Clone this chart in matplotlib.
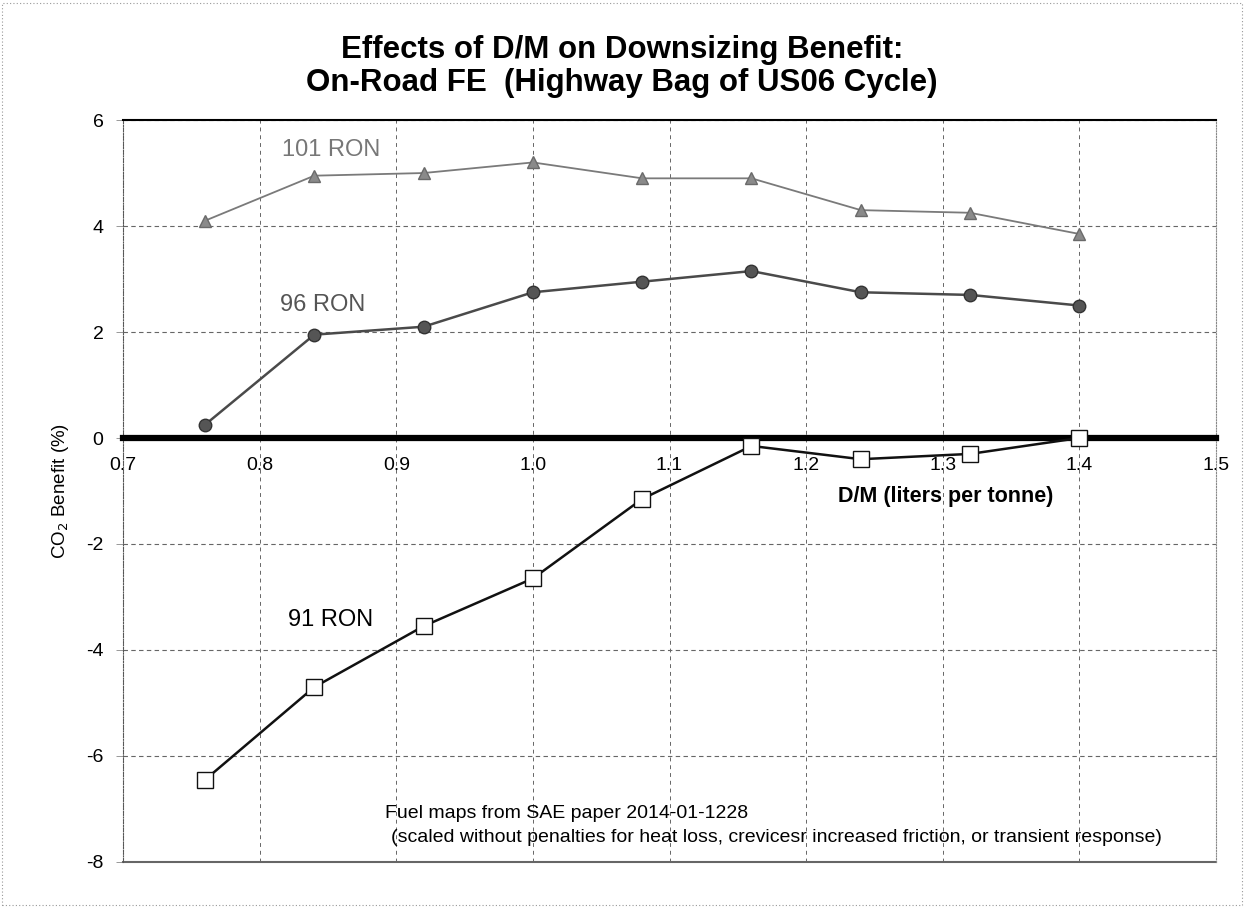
import matplotlib.pyplot as plt
from matplotlib.patches import Rectangle

plt.rcParams['font.family'] = ['Liberation Sans', 'DejaVu Sans']
plt.rcParams['axes.unicode_minus'] = False

# D/M values (liters per tonne)
dm = [0.76, 0.84, 0.92, 1.00, 1.08, 1.16, 1.24, 1.32, 1.40]

# CO2 benefit (%) per fuel
ron101 = [4.1, 4.95, 5.0, 5.2, 4.9, 4.9, 4.3, 4.25, 3.85]
ron96 = [0.25, 1.95, 2.1, 2.75, 2.95, 3.15, 2.75, 2.7, 2.5]
ron91 = [-6.45, -4.7, -3.55, -2.65, -1.15, -0.15, -0.4, -0.3, 0.0]

x_ticks = [0.7, 0.8, 0.9, 1.0, 1.1, 1.2, 1.3, 1.4, 1.5]
x_ticklabels = ['0.7', '0.8', '0.9', '1.0', '1.1', '1.2', '1.3', '1.4', '1.5']
y_ticks = [-8, -6, -4, -2, 0, 2, 4, 6]

fig = plt.figure(figsize=(12.44, 9.08), dpi=100)
ax = fig.add_axes([0.0989, 0.0507, 0.8786, 0.8171])

# dotted frame round the whole picture
fig.patches.append(Rectangle((0.002, 0.003), 0.996, 0.994, transform=fig.transFigure,
                             fill=False, ec='#999999', lw=0.8, ls=(0, (1, 2))))

ax.plot(dm, ron101, color='#7a7a7a', lw=1.3, marker='^', ms=8,
        mfc='#8a8a8a', mec='#6a6a6a', zorder=4)
ax.plot(dm, ron96, color='#4a4a4a', lw=1.8, marker='o', ms=9,
        mfc='#555555', mec='#333333', zorder=4)
ax.plot(dm, ron91, color='#111111', lw=1.8, marker='s', ms=11,
        mfc='white', mec='#111111', mew=1.0, zorder=5)

ax.set_xlim(0.7, 1.5)
ax.set_ylim(-8, 6)
ax.set_xticks(x_ticks)
ax.set_xticklabels(x_ticklabels)
ax.set_yticks(y_ticks)

ax.grid(True, axis='x', color='#666666', ls=(0, (4, 4)), lw=0.7)
ax.grid(True, axis='y', color='#666666', ls=(0, (4, 3)), lw=0.8)

# x axis through zero, bottom border at -8
ax.spines['bottom'].set_position(('data', 0))
ax.spines['bottom'].set_linewidth(4.5)
ax.spines['bottom'].set_color('black')
ax.spines['bottom'].set_zorder(3)
ax.axhline(-8, color='#666666', lw=1.5, clip_on=False)
ax.spines['top'].set_linewidth(1.5)
ax.spines['left'].set_linestyle((0, (1, 1.5)))
ax.spines['left'].set_color('#555555')
ax.spines['right'].set_linestyle((0, (1, 1.5)))
ax.spines['right'].set_color('#888888')

ax.tick_params(axis='x', length=0, pad=14, labelsize=14)
ax.tick_params(axis='y', length=5, width=0.6, color='#888888', pad=9, labelsize=14)

ax.text(0.852, 5.43, '101 RON', fontsize=17, color='#777777', ha='center', va='center')
ax.text(0.846, 2.51, '96 RON', fontsize=17, color='#555555', ha='center', va='center')
ax.text(0.852, -3.43, '91 RON', fontsize=17, color='black', ha='center', va='center')

ax.text(1.302, -1.11, 'D/M (liters per tonne)', fontsize=15.5, fontweight='bold',
        ha='center', va='center')

ax.set_ylabel('CO$_2$ Benefit (%)', fontsize=13.5)
ax.yaxis.set_label_coords(-0.048, 0.50)

ax.text(0.892, -7.08, 'Fuel maps from SAE paper 2014-01-1228', fontsize=14,
        ha='left', va='center')
ax.text(0.896, -7.53, '(scaled without penalties for heat loss, crevicesr increased friction, '
        'or transient response)', fontsize=14, ha='left', va='center')

fig.text(0.5, 0.927, 'Effects of D/M on Downsizing Benefit:\nOn-Road FE  (Highway Bag of US06 Cycle)',
         fontsize=22.5, fontweight='bold', ha='center', va='center', linespacing=1.15)

fig.savefig('out.png', dpi=100)
